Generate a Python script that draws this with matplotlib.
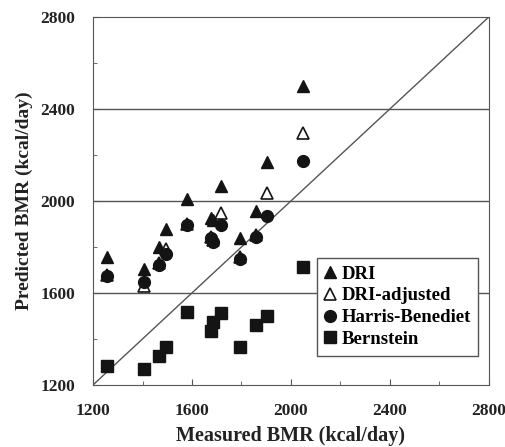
import matplotlib
matplotlib.use('Agg')
import matplotlib.pyplot as plt
from matplotlib.ticker import MultipleLocator

# measured BMR per subject (kcal/day)
measured = [1258, 1407, 1468, 1495, 1581, 1678, 1685, 1716, 1794, 1859, 1902, 2050]
# predicted BMR by equation
dri = [1755, 1703, 1801, 1877, 2007, 1925, 1915, 2065, 1838, 1958, 2170, 2500]
dri_adj = [1680, 1630, 1730, 1790, 1900, 1845, 1830, 1946, 1755, 1850, 2033, 2297]
harris = [1674, 1649, 1722, 1770, 1896, 1840, 1822, 1896, 1748, 1842, 1935, 2175]
bernstein = [1283, 1268, 1326, 1364, 1519, 1436, 1475, 1512, 1364, 1461, 1500, 1712]

ticks = [1200, 1600, 2000, 2400, 2800]
grid_y = [1600, 2000, 2400]

plt.rcParams['font.family'] = ['Liberation Serif', 'DejaVu Serif']
plt.rcParams['font.weight'] = 'bold'
plt.rcParams['font.size'] = 12.5

fig = plt.figure(figsize=(5.06, 4.47), dpi=100)
ax = fig.add_axes([0.184, 0.139, 0.782, 0.823])

line_col = '#555555'
pt_col = '#141414'
txt_col = '#222222'

for g in grid_y:
    ax.axhline(g, color=line_col, lw=1.0, zorder=1)
ax.plot([1200, 2800], [1200, 2800], color=line_col, lw=1.0, zorder=1)

ax.plot(measured, dri, '^', ms=9, color=pt_col, ls='none', label='DRI', zorder=3)
ax.plot(measured, dri_adj, '^', ms=9, mfc='white', mec=pt_col, mew=1.2, ls='none',
        label='DRI-adjusted', zorder=2)
ax.plot(measured, harris, 'o', ms=8.5, color=pt_col, ls='none', label='Harris-Benediet', zorder=3)
ax.plot(measured, bernstein, 's', ms=8.5, color=pt_col, ls='none', label='Bernstein', zorder=3)

ax.set_xlim(1200, 2800)
ax.set_ylim(1200, 2800)
ax.set_xticks(ticks)
ax.set_yticks(ticks)
ax.xaxis.set_minor_locator(MultipleLocator(200))
ax.yaxis.set_minor_locator(MultipleLocator(200))
ax.tick_params(which='both', direction='in', colors=line_col, labelcolor=txt_col)
ax.tick_params(which='major', length=4)
ax.tick_params(which='minor', length=3)
ax.tick_params(axis='x', which='major', pad=13)
ax.tick_params(axis='y', which='major', pad=13)
for s in ax.spines.values():
    s.set_color(line_col)

ax.set_xlabel('Measured BMR (kcal/day)', fontweight='bold', color=txt_col, labelpad=5,
              fontsize=14.5)
ax.set_ylabel('Predicted BMR (kcal/day)', fontweight='bold', color=txt_col, labelpad=5,
              fontsize=14)

leg = ax.legend(loc='upper left', bbox_to_anchor=(0.566, 0.345), fancybox=False,
                edgecolor=line_col, framealpha=1, handlelength=0.55, handletextpad=0.35,
                borderpad=0.4, labelspacing=0.25, borderaxespad=0,
                prop={'weight': 'bold', 'size': 13.5})
leg.get_frame().set_linewidth(1.0)

plt.savefig('out.png', dpi=100)
